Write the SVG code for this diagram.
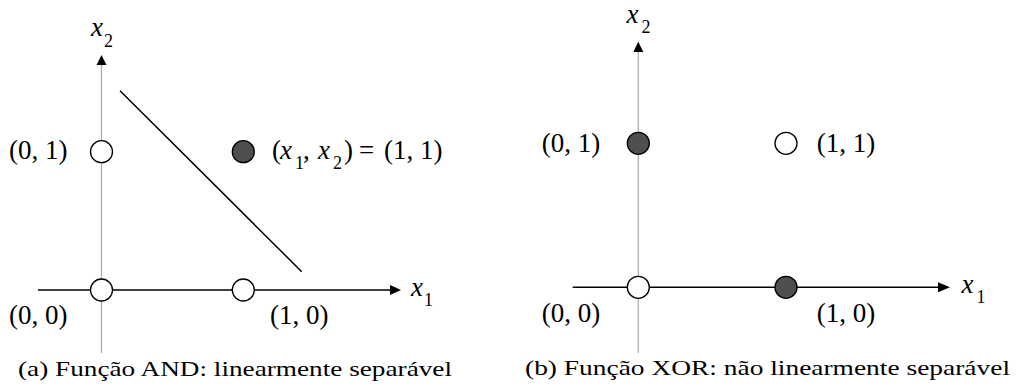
<svg xmlns="http://www.w3.org/2000/svg" width="1016" height="385" viewBox="0 0 1016 385">
<style>
text{font-family:'Liberation Serif','Times New Roman',Tinos,'DejaVu Serif',serif;fill:#000}
.lbl{font-size:27px}
.var{font-size:27px;font-style:italic}
.sub{font-size:18px}
.cap{font-size:22px}
.open{fill:#fff;stroke:#000;stroke-width:1.3}
.full{fill:#4f4f4f;stroke:#000;stroke-width:1.3}
.vax{stroke:#aaa;stroke-width:1.2;fill:none}
.hax{stroke:#000;stroke-width:1.6;fill:none}
.sep{stroke:#000;stroke-width:1.5;fill:none}
.head{fill:#000}
</style>
<rect width="1016" height="385" fill="#fff"/>
<g id="connectors">
  <line class="vax" x1="101.5" y1="64" x2="101.5" y2="353"/>
  <polygon class="head" points="101.5,55 96.5,65 106.5,65"/>
  <line class="hax" x1="38" y1="290" x2="391" y2="290"/>
  <polygon class="head" points="401,290 390,285 390,295"/>
  <line class="sep" x1="120" y1="90.7" x2="301.7" y2="271.7"/>
  <line class="vax" x1="638.3" y1="51" x2="638.3" y2="353"/>
  <polygon class="head" points="638.3,41.7 633.3,52 643.3,52"/>
  <line class="hax" x1="572.7" y1="287.3" x2="939" y2="287.3"/>
  <polygon class="head" points="950,287.3 938,282.3 938,292.3"/>
</g>
<g id="axis-labels-a">
  <text class="var" x="91" y="36">x</text><text class="sub" x="104" y="47">2</text>
  <text class="var" x="411" y="296">x</text><text class="sub" x="424" y="306">1</text>
</g>
<g id="a-p00"><circle class="open" cx="101.5" cy="290" r="11"/><text class="lbl" x="9" y="324">(0, 0)</text></g>
<g id="a-p10"><circle class="open" cx="243.3" cy="290" r="11"/><text class="lbl" x="270" y="324">(1, 0)</text></g>
<g id="a-p01"><circle class="open" cx="101.5" cy="151.7" r="11"/><text class="lbl" x="9" y="159">(0, 1)</text></g>
<g id="a-p11"><circle class="full" cx="243.3" cy="151.7" r="11"/>
  <text class="lbl" x="272" y="159">(</text>
  <text class="var" x="280" y="159">x</text>
  <text class="sub" x="295" y="169">1</text>
  <text class="lbl" x="303" y="159">,</text>
  <text class="var" x="318" y="159">x</text>
  <text class="sub" x="333" y="169">2</text>
  <text class="lbl" x="344" y="159">)</text>
  <text class="lbl" x="359" y="159">=</text>
  <text class="lbl" x="384" y="159">(1, 1)</text>
</g>
<g id="axis-labels-b">
  <text class="var" x="626.5" y="23.3">x</text><text class="sub" x="641.5" y="33.3">2</text>
  <text class="var" x="961.5" y="293.3">x</text><text class="sub" x="976.5" y="303.3">1</text>
</g>
<g id="b-p00"><circle class="open" cx="638.3" cy="287.3" r="11"/><text class="lbl" x="541.7" y="322">(0, 0)</text></g>
<g id="b-p10"><circle class="full" cx="786" cy="287.3" r="11"/><text class="lbl" x="816.7" y="322">(1, 0)</text></g>
<g id="b-p01"><circle class="full" cx="638.3" cy="143.3" r="11"/><text class="lbl" x="541.7" y="152">(0, 1)</text></g>
<g id="b-p11"><circle class="open" cx="786" cy="143.3" r="11"/><text class="lbl" x="816.7" y="152">(1, 1)</text></g>
<g id="captions">
  <text class="cap" x="18" y="376" textLength="434" lengthAdjust="spacingAndGlyphs">(a) Função AND: linearmente separável</text>
  <text class="cap" x="525" y="375" textLength="485" lengthAdjust="spacingAndGlyphs">(b) Função XOR: não linearmente separável</text>
</g>
</svg>
